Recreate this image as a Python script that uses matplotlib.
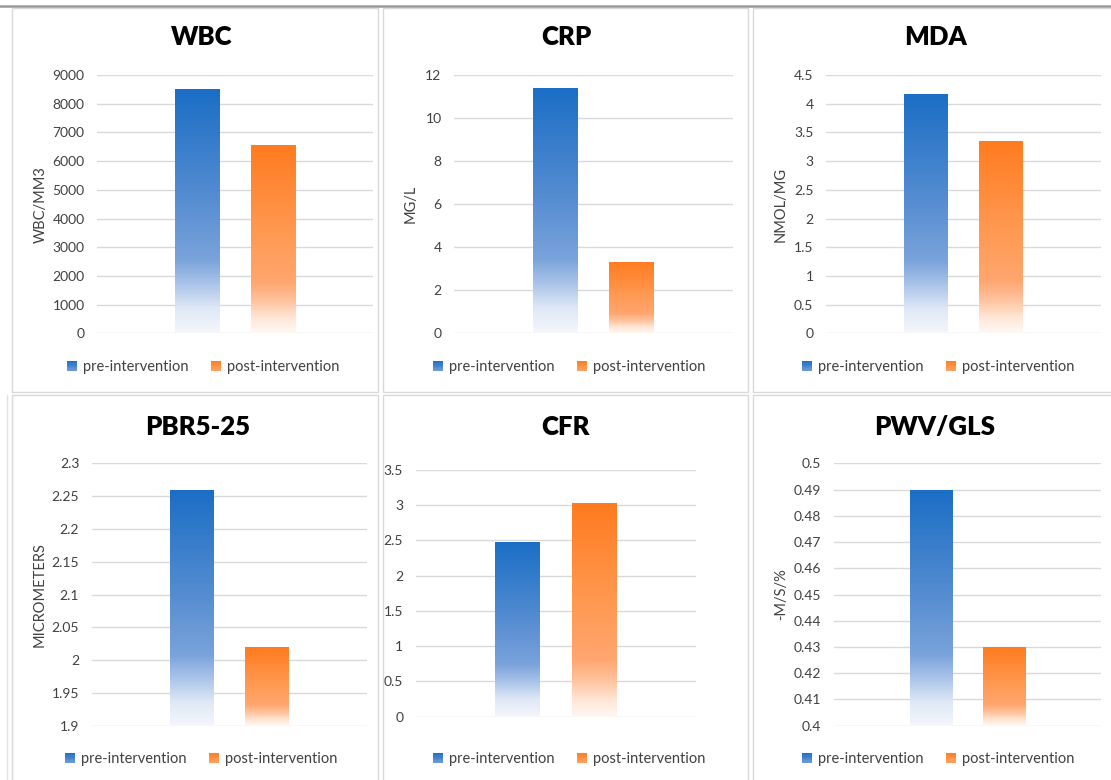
import numpy as np
import matplotlib
matplotlib.use("Agg")
import matplotlib.pyplot as plt
from matplotlib.colors import LinearSegmentedColormap
from matplotlib.patches import Rectangle, Patch
from matplotlib.legend_handler import HandlerBase

plt.rcParams['font.family'] = ['Lato', 'DejaVu Sans']

# data
titles = ["WBC", "CRP", "MDA", "PBR5-25", "CFR", "PWV/GLS"]
ylabels = ["WBC/MM3", "MG/L", "NMOL/MG", "MICROMETERS", "", "-M/S/%"]
series = ["pre-intervention", "post-intervention"]
pre = [8500, 11.4, 4.17, 2.26, 2.48, 0.49]
post = [6550, 3.3, 3.35, 2.02, 3.03, 0.43]
ymins = [0, 0, 0, 1.9, 0, 0.4]
ymaxs = [9000, 12, 4.5, 2.3, 3.5, 0.5]
ysteps = [1000, 2, 0.5, 0.05, 0.5, 0.01]
yticklabels = [
    ["0", "1000", "2000", "3000", "4000", "5000", "6000", "7000", "8000", "9000"],
    ["0", "2", "4", "6", "8", "10", "12"],
    ["0", "0.5", "1", "1.5", "2", "2.5", "3", "3.5", "4", "4.5"],
    ["1.9", "1.95", "2", "2.05", "2.1", "2.15", "2.2", "2.25", "2.3"],
    ["0", "0.5", "1", "1.5", "2", "2.5", "3", "3.5"],
    ["0.4", "0.41", "0.42", "0.43", "0.44", "0.45", "0.46", "0.47", "0.48", "0.49", "0.5"],
]

W, H = 1111, 780
fig = plt.figure(figsize=(W / 100, H / 100), dpi=100)
fig.patch.set_facecolor("white")

def fx(x):
    return x / W

def fy(y):
    return 1 - y / H

# layout in pixels: plot box, y label x, title/legend centres
boxes = [(97, 75, 373, 333.3), (454, 75, 732.7, 333.3), (826, 75, 1100.7, 333.3),
         (91.7, 463.3, 366.7, 725.7), (415.7, 470, 696, 716.7), (834, 463.3, 1101, 725.7)]
ylab_x = [43, 413, 783, 42, None, 783]
title_pos = [(202, 37), (566, 37), (936, 37), (198, 427), (566, 427), (935, 427)]
legend_pos = [(203, 367), (569, 367), (938, 367), (201, 759), (569, 759), (938, 759)]

# chart frames
frames = [(12, 8, 378, 392), (383, 8, 748, 392), (753, 8, 1120, 392),
          (12, 395, 378, 790), (383, 395, 748, 790), (753, 395, 1120, 790)]
for x0, y0, x1, y1 in frames:
    fig.add_artist(Rectangle((fx(x0), fy(y1)), fx(x1 - x0), (y1 - y0) / H,
                             transform=fig.transFigure, fill=False,
                             edgecolor="#d9d9d9", linewidth=1.0))
fig.add_artist(plt.Line2D([0, 1], [fy(6), fy(6)], transform=fig.transFigure,
                          color="#9a9a9a", linewidth=1.8))
fig.add_artist(plt.Line2D([fx(7), fx(7)], [fy(395), 0], transform=fig.transFigure,
                          color="#e3e3e3", linewidth=1.0))

blue_cmap = LinearSegmentedColormap.from_list("blue", [
    (0.0, "#f4f7fc"), (0.1, "#dfe8f6"), (0.2, "#aac4e9"), (0.3, "#7aa3db"),
    (0.55, "#568dd1"), (1.0, "#1a6ec5")])
orange_cmap = LinearSegmentedColormap.from_list("orange", [
    (0.0, "#fff8f3"), (0.08, "#ffe6d6"), (0.17, "#ffc39e"), (0.27, "#ffa66f"),
    (0.55, "#ff9850"), (1.0, "#ff7b1f")])
cmaps = [blue_cmap, orange_cmap]


class GradHandler(HandlerBase):
    def __init__(self, cmap):
        super().__init__()
        self.cmap = cmap

    def create_artists(self, legend, orig_handle, xdescent, ydescent,
                       width, height, fontsize, trans):
        n = 8
        arts = []
        for i in range(n):
            r = Rectangle((-xdescent, -ydescent + i * height / n), width, height / n,
                          facecolor=self.cmap(0.35 + 0.65 * (i + 0.5) / n),
                          edgecolor="none", transform=trans)
            arts.append(r)
        return arts


grad = np.linspace(0, 1, 256).reshape(-1, 1)
positions = [-0.137, 0.137]
bar_w = 0.16
txt_col = "#404040"

for i in range(6):
    x0, y0, x1, y1 = boxes[i]
    ax = fig.add_axes([fx(x0), fy(y1), fx(x1 - x0), (y1 - y0) / H])
    ymin, ymax = ymins[i], ymaxs[i]
    vals = [pre[i], post[i]]
    for k in range(2):
        bar = ax.bar(positions[k], vals[k] - ymin, bar_w, bottom=ymin,
                     color="none", edgecolor="none", zorder=2)[0]
        bx, by = bar.get_x(), bar.get_y()
        im = ax.imshow(grad, cmap=cmaps[k], origin="lower", aspect="auto",
                       extent=[bx, bx + bar.get_width(), by, by + bar.get_height()],
                       interpolation="bicubic", zorder=2)
        im.set_clip_path(bar)
    ax.set_xlim(-0.5, 0.5)
    ax.set_ylim(ymin, ymax)
    ticks = np.arange(len(yticklabels[i])) * ysteps[i] + ymin
    ax.set_yticks(ticks)
    ax.set_yticklabels(yticklabels[i])
    ax.set_xticks([])
    ax.grid(axis="y", color="#d9d9d9", linewidth=1.0, zorder=0)
    ax.set_axisbelow(True)
    for s in ax.spines.values():
        s.set_visible(False)
    ax.tick_params(axis="y", length=0, pad=9, labelsize=10, labelcolor=txt_col)
    if ylabels[i]:
        ax.set_ylabel(ylabels[i], fontsize=10.5, color=txt_col)
        ax.yaxis.set_label_coords((ylab_x[i] + 5 - x0) / (x1 - x0), 0.5)
    tx, ty = title_pos[i]
    fig.text(fx(tx), fy(ty), titles[i], ha="center", va="center",
             fontsize=18.5, fontweight="heavy", color="black")
    lx, ly = legend_pos[i]
    hs = [Patch(label=series[0]), Patch(label=series[1])]
    fig.legend(handles=hs, labels=series, loc="center",
               bbox_to_anchor=(fx(lx), fy(ly)), ncol=2, frameon=False,
               fontsize=10.5, labelcolor=txt_col,
               handler_map={hs[0]: GradHandler(blue_cmap), hs[1]: GradHandler(orange_cmap)},
               handlelength=0.7, handleheight=0.7, handletextpad=0.4,
               columnspacing=1.5, borderpad=0)

fig.savefig("out.png", dpi=100, facecolor="white")
